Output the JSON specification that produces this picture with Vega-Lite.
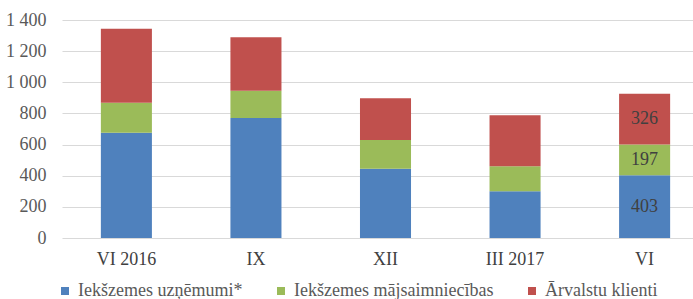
{
  "$schema": "https://vega.github.io/schema/vega-lite/v6.json",
  "autosize": {"type": "none"},
  "padding": {"left": 62, "top": 20, "right": 0, "bottom": 61},
  "width": 631,
  "height": 218,
  "background": "white",
  "config": {
    "view": {"stroke": null},
    "font": "Liberation Serif",
    "text": {"font": "Liberation Serif"},
    "legend": {"labelFont": "Liberation Serif"},
    "axis": {"labelFont": "Liberation Serif"}
  },
  "data": {
    "values": [
      {"period": "VI 2016", "series": "Iekšzemes uzņēmumi*", "value": 676, "k": 1},
      {"period": "VI 2016", "series": "Iekšzemes mājsaimniecības", "value": 193, "k": 2},
      {"period": "VI 2016", "series": "Ārvalstu klienti", "value": 475, "k": 3},
      {"period": "IX", "series": "Iekšzemes uzņēmumi*", "value": 771, "k": 1},
      {"period": "IX", "series": "Iekšzemes mājsaimniecības", "value": 175, "k": 2},
      {"period": "IX", "series": "Ārvalstu klienti", "value": 343, "k": 3},
      {"period": "XII", "series": "Iekšzemes uzņēmumi*", "value": 445, "k": 1},
      {"period": "XII", "series": "Iekšzemes mājsaimniecības", "value": 184, "k": 2},
      {"period": "XII", "series": "Ārvalstu klienti", "value": 268, "k": 3},
      {"period": "III 2017", "series": "Iekšzemes uzņēmumi*", "value": 301, "k": 1},
      {"period": "III 2017", "series": "Iekšzemes mājsaimniecības", "value": 159, "k": 2},
      {"period": "III 2017", "series": "Ārvalstu klienti", "value": 328, "k": 3},
      {"period": "VI", "series": "Iekšzemes uzņēmumi*", "value": 403, "k": 1},
      {"period": "VI", "series": "Iekšzemes mājsaimniecības", "value": 197, "k": 2},
      {"period": "VI", "series": "Ārvalstu klienti", "value": 326, "k": 3}
    ]
  },
  "encoding": {
    "x": {
      "field": "period",
      "type": "nominal",
      "sort": ["VI 2016", "IX", "XII", "III 2017", "VI"],
      "scale": {"range": [0, 647], "paddingInner": 0.606, "paddingOuter": 0.3},
      "axis": {
        "title": null,
        "domain": false,
        "ticks": false,
        "labelAngle": 0,
        "labelPadding": 12,
        "labelOverlap": false,
        "labelFont": "Liberation Serif",
        "labelFontSize": 18,
        "labelColor": "#404040"
      }
    }
  },
  "layer": [
    {
      "mark": {"type": "bar"},
      "encoding": {
        "y": {
          "field": "value",
          "type": "quantitative",
          "stack": "zero",
          "scale": {"domain": [0, 1400], "nice": false},
          "axis": {
            "title": null,
            "values": [0, 200, 400, 600, 800, 1000, 1200, 1400],
            "labelExpr": "replace(format(datum.value, ','), ',', ' ')",
            "labelOverlap": false,
            "domain": false,
            "ticks": false,
            "labelPadding": 16,
            "labelFont": "Liberation Serif",
            "labelFontSize": 18,
            "labelColor": "#595959",
            "gridColor": "#d9d9d9",
            "gridWidth": 1
          }
        },
        "order": {"field": "k", "type": "quantitative"},
        "color": {
          "field": "series",
          "type": "nominal",
          "scale": {
            "domain": ["Iekšzemes uzņēmumi*", "Iekšzemes mājsaimniecības", "Ārvalstu klienti"],
            "range": ["#4F81BD", "#9BBB59", "#C0504D"]
          },
          "legend": {
            "title": null,
            "orient": "none",
            "direction": "horizontal",
            "columns": 3,
            "legendX": -6,
            "legendY": 262,
            "columnPadding": 29,
            "symbolType": "square",
            "symbolSize": 64,
            "symbolStrokeWidth": 0,
            "labelOffset": 4,
            "labelFont": "Liberation Serif",
            "labelFontSize": 18,
            "labelColor": "#595959",
            "labelLimit": 400
          }
        }
      }
    },
    {
      "transform": [
        {"stack": "value", "groupby": ["period"], "sort": [{"field": "k", "order": "ascending"}], "as": ["v0", "v1"]},
        {"calculate": "(datum.v0 + datum.v1) / 2", "as": "mid"},
        {"filter": "datum.period == 'VI'"}
      ],
      "mark": {"type": "text", "font": "Liberation Serif", "fontSize": 18, "color": "#404040", "baseline": "middle"},
      "encoding": {
        "y": {
          "field": "mid",
          "type": "quantitative",
          "axis": {
            "title": null,
            "values": [0, 200, 400, 600, 800, 1000, 1200, 1400],
            "labelExpr": "replace(format(datum.value, ','), ',', ' ')",
            "labelOverlap": false,
            "domain": false,
            "ticks": false,
            "labelPadding": 16,
            "labelFont": "Liberation Serif",
            "labelFontSize": 18,
            "labelColor": "#595959",
            "gridColor": "#d9d9d9",
            "gridWidth": 1
          }
        },
        "text": {"field": "value", "type": "quantitative"}
      }
    }
  ]
}
